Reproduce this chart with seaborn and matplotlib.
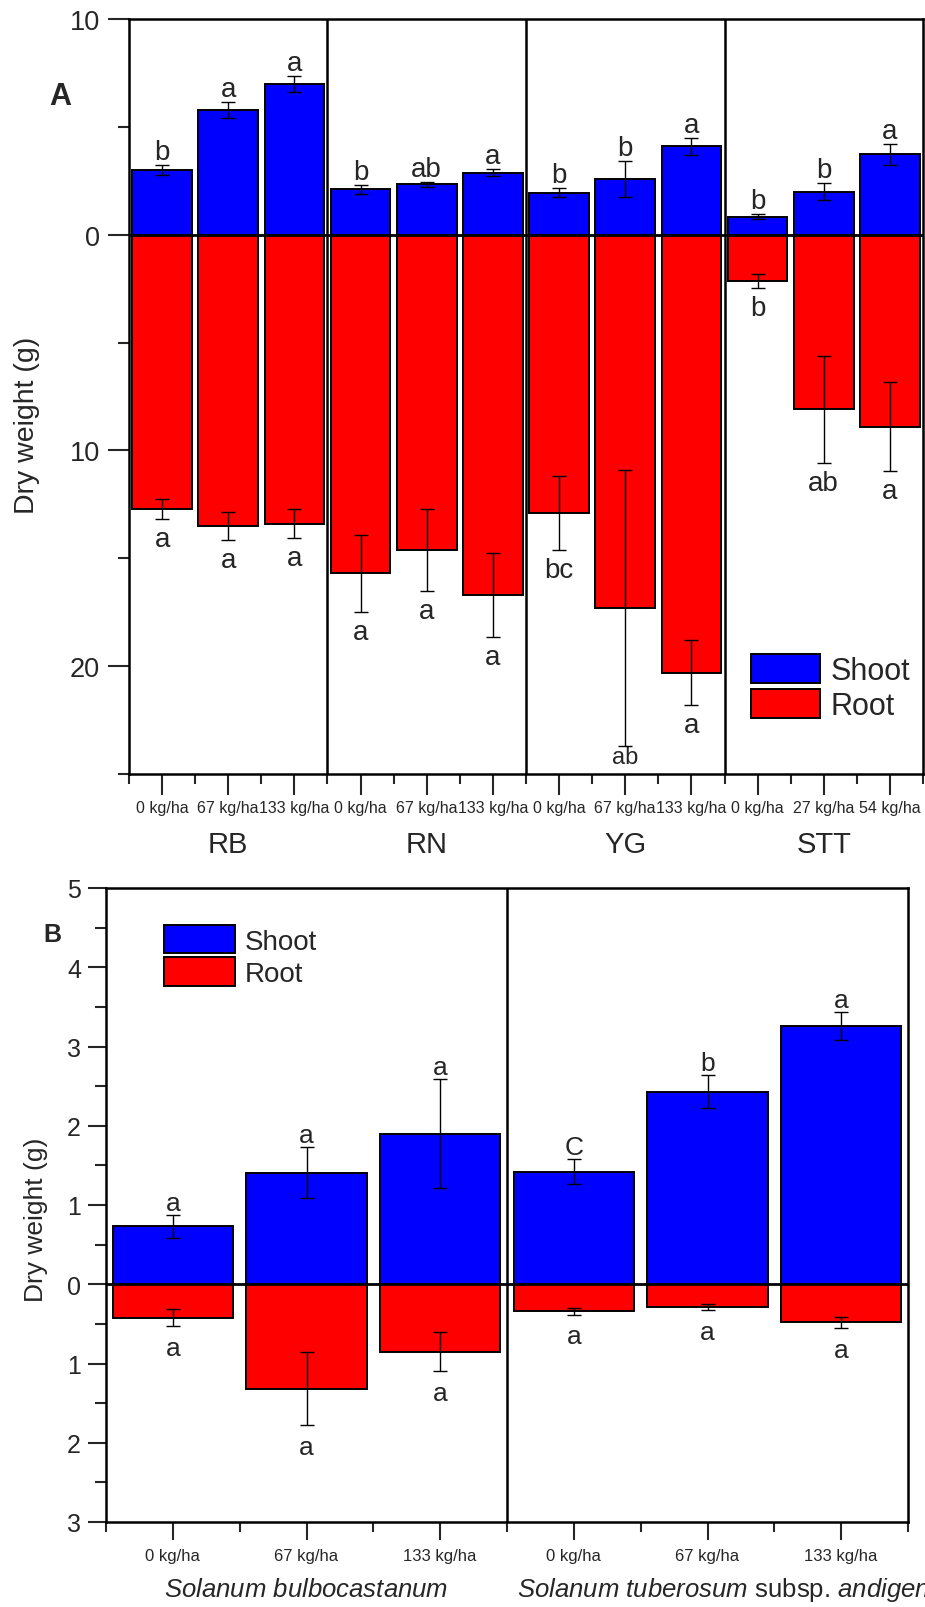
import numpy as np
import pandas as pd
import matplotlib
matplotlib.use("Agg")
import matplotlib.pyplot as plt
import seaborn as sns
from matplotlib.ticker import FixedLocator, FuncFormatter
from matplotlib.patches import Patch

# ---------------- Panel A data ----------------
a_groups = ["RB", "RN", "YG", "STT"]
a_rates = ["0 kg/ha", "67 kg/ha", "133 kg/ha",
           "0 kg/ha", "67 kg/ha", "133 kg/ha",
           "0 kg/ha", "67 kg/ha", "133 kg/ha",
           "0 kg/ha", "27 kg/ha", "54 kg/ha"]
a_shoot = [3.0, 5.8, 7.0, 2.1, 2.33, 2.88, 1.95, 2.6, 4.1, 0.84, 2.0, 3.72]
a_shoot_err = [0.25, 0.37, 0.37, 0.2, 0.1, 0.17, 0.22, 0.84, 0.4, 0.1, 0.38, 0.5]
a_root = [12.7, 13.5, 13.4, 15.7, 14.6, 16.7, 12.9, 17.3, 20.3, 2.14, 8.1, 8.9]
a_root_err = [0.47, 0.65, 0.67, 1.77, 1.9, 1.95, 1.7, 6.4, 1.5, 0.33, 2.47, 2.05]
a_shoot_letters = ["b", "a", "a", "b", "ab", "a", "b", "b", "a", "b", "b", "a"]
a_root_letters = ["a", "a", "a", "a", "a", "a", "bc", "ab", "a", "b", "ab", "a"]

# ---------------- Panel B data ----------------
b_groups = ["Solanum bulbocastanum", "Solanum tuberosum subsp. andigena"]
b_rates = ["0 kg/ha", "67 kg/ha", "133 kg/ha", "0 kg/ha", "67 kg/ha", "133 kg/ha"]
b_shoot = [0.73, 1.41, 1.90, 1.42, 2.43, 3.26]
b_shoot_err = [0.145, 0.32, 0.69, 0.16, 0.21, 0.18]
b_root = [0.42, 1.32, 0.85, 0.34, 0.29, 0.48]
b_root_err = [0.11, 0.46, 0.245, 0.045, 0.035, 0.07]
b_shoot_letters = ["a", "a", "a", "C", "b", "a"]
b_root_letters = ["a", "a", "a", "a", "a", "a"]

parts = ["Shoot", "Root"]
colors = {"Shoot": "#0000FF", "Root": "#FF0000"}

sns.set_style("ticks")
plt.rcParams["font.family"] = ["Liberation Sans", "DejaVu Sans"]
plt.rcParams["mathtext.fontset"] = "custom"
plt.rcParams["mathtext.rm"] = "Liberation Sans"
plt.rcParams["mathtext.it"] = "Liberation Sans:italic"

W, H = 925, 1608
fig = plt.figure(figsize=(W / 100, H / 100), dpi=100)


def px_axes(l, t, r, b):
    return fig.add_axes([l / W, 1 - b / H, (r - l) / W, (b - t) / H])


def make_df(n_per_group, groups, rates, shoot, root):
    keys = [f"{groups[i // n_per_group]}|{rates[i]}" for i in range(len(rates))]
    rows = []
    for k, s, r in zip(keys, shoot, root):
        rows.append({"key": k, "part": "Shoot", "value": s})
        rows.append({"key": k, "part": "Root", "value": -r})
    return keys, pd.DataFrame(rows)


def draw_panel(ax, keys, df, shoot, shoot_err, root, root_err, capsize):
    sns.barplot(data=df, x="key", y="value", hue="part", order=keys,
                hue_order=parts, palette=colors, dodge=False, width=0.9,
                saturation=1, edgecolor="black", linewidth=1.4, errorbar=None,
                legend=False, ax=ax, zorder=2)
    xs = np.arange(len(keys))
    ax.errorbar(xs, shoot, yerr=shoot_err, fmt="none", ecolor="black",
                elinewidth=1.0, capsize=capsize, capthick=1.0, zorder=4)
    ax.errorbar(xs, -np.array(root), yerr=root_err, fmt="none", ecolor="black",
                elinewidth=1.0, capsize=capsize, capthick=1.0, zorder=4)
    ax.axhline(0, color="black", lw=2.0, zorder=5)
    for sp in ax.spines.values():
        sp.set_visible(True)
        sp.set_linewidth(1.8)
        sp.set_color("black")
    ax.set_xlim(-0.5, len(keys) - 0.5)
    ax.set_xlabel("")
    ax.set_ylabel("")
    return xs


absfmt = FuncFormatter(lambda v, p: f"{abs(v):g}")

# ================= Panel A =================
axA = px_axes(129, 20, 923, 775)
keysA, dfA = make_df(3, a_groups, a_rates, a_shoot, a_root)
xsA = draw_panel(axA, keysA, dfA, a_shoot, a_shoot_err, a_root, a_root_err, 5)
axA.set_ylim(-25, 10)
axA.yaxis.set_major_locator(FixedLocator([-20, -10, 0, 10]))
axA.yaxis.set_minor_locator(FixedLocator(np.arange(-25, 10.1, 5)))
axA.yaxis.set_major_formatter(absfmt)
axA.set_xticks(xsA)
axA.set_xticklabels(a_rates, fontsize=11.5)
axA.xaxis.set_minor_locator(FixedLocator(np.arange(-0.5, len(keysA), 1)))
axA.tick_params(axis="y", which="major", length=15, width=1.5, labelsize=19.5, pad=6)
axA.tick_params(axis="y", which="minor", length=8, width=1.5)
axA.tick_params(axis="x", which="major", length=15, width=1.5, pad=4)
axA.tick_params(axis="x", which="minor", length=7, width=1.5)
for xsep in [2.5, 5.5, 8.5]:
    axA.axvline(xsep, color="black", lw=1.8, zorder=6)

for i in range(len(keysA)):
    top = a_shoot[i] + a_shoot_err[i]
    axA.annotate(a_shoot_letters[i], (xsA[i], top), xytext=(0, 0),
                 textcoords="offset points", ha="center", va="bottom", fontsize=20)
    bot = -(a_root[i] + a_root_err[i])
    if bot - 2.0 < -25:
        axA.annotate(a_root_letters[i], (xsA[i], bot), xytext=(0, 0),
                     textcoords="offset points", ha="center", va="top", fontsize=17)
    else:
        axA.annotate(a_root_letters[i], (xsA[i], bot), xytext=(0, -5),
                     textcoords="offset points", ha="center", va="top", fontsize=20)

for g, name in enumerate(a_groups):
    axA.text(g * 3 + 1, -0.093, name, transform=axA.get_xaxis_transform(),
             ha="center", va="center", fontsize=21)

legA = axA.legend(handles=[Patch(facecolor=colors[p], edgecolor="black", linewidth=1.4, label=p) for p in parts],
                  loc="upper left", bbox_to_anchor=(751 / W, 1 - 655 / H),
                  bbox_transform=fig.transFigure, frameon=False, fontsize=22,
                  handlelength=2.25, handleheight=1.1, handletextpad=0.35,
                  labelspacing=0.1, borderpad=0, borderaxespad=0)

fig.text(49 / W, 1 - 97 / H, "A", fontsize=22, fontweight="bold", ha="left", va="center")
fig.text(27 / W, 1 - 425 / H, "Dry weight (g)", rotation=90, ha="center", va="center", fontsize=20.5)

# ================= Panel B =================
axB = px_axes(106, 889, 908, 1523)
keysB, dfB = make_df(3, b_groups, b_rates, b_shoot, b_root)
xsB = draw_panel(axB, keysB, dfB, b_shoot, b_shoot_err, b_root, b_root_err, 5)
axB.set_ylim(-3, 5)
axB.yaxis.set_major_locator(FixedLocator(np.arange(-3, 5.1, 1)))
axB.yaxis.set_minor_locator(FixedLocator(np.arange(-3, 5.1, 0.5)))
axB.yaxis.set_major_formatter(absfmt)
axB.set_xticks(xsB)
axB.set_xticklabels(b_rates, fontsize=12)
axB.xaxis.set_minor_locator(FixedLocator(np.arange(-0.5, len(keysB), 1)))
axB.tick_params(axis="y", which="major", length=13, width=1.5, labelsize=18, pad=5)
axB.tick_params(axis="y", which="minor", length=8, width=1.5)
axB.tick_params(axis="x", which="major", length=13, width=1.5, pad=6)
axB.tick_params(axis="x", which="minor", length=7, width=1.5)
axB.axvline(2.5, color="black", lw=1.8, zorder=6)

for i in range(len(keysB)):
    top = b_shoot[i] + b_shoot_err[i]
    axB.annotate(b_shoot_letters[i], (xsB[i], top), xytext=(0, 0),
                 textcoords="offset points", ha="center", va="bottom", fontsize=19)
    bot = -(b_root[i] + b_root_err[i])
    axB.annotate(b_root_letters[i], (xsB[i], bot), xytext=(0, -7),
                 textcoords="offset points", ha="center", va="top", fontsize=19)

axB.text(1, -0.106, r"$\mathit{Solanum}$ $\mathit{bulbocastanum}$",
         transform=axB.get_xaxis_transform(), ha="center", va="center", fontsize=18.5)
fig.text(517 / W, 1 - 1590 / H,
         r"$\mathit{Solanum}$ $\mathit{tuberosum}$ subsp. $\mathit{andigena}$",
         ha="left", va="center", fontsize=18.5)

legB = axB.legend(handles=[Patch(facecolor=colors[p], edgecolor="black", linewidth=1.4, label=p) for p in parts],
                  loc="upper left", bbox_to_anchor=(164 / W, 1 - 926 / H),
                  bbox_transform=fig.transFigure, frameon=False, fontsize=20,
                  handlelength=2.55, handleheight=1.2, handletextpad=0.35,
                  labelspacing=0.1, borderpad=0, borderaxespad=0)

fig.text(43 / W, 1 - 935 / H, "B", fontsize=18, fontweight="bold", ha="left", va="center")
fig.text(36 / W, 1 - 1220 / H, "Dry weight (g)", rotation=90, ha="center", va="center", fontsize=19)

fig.savefig("out.png", dpi=100)
